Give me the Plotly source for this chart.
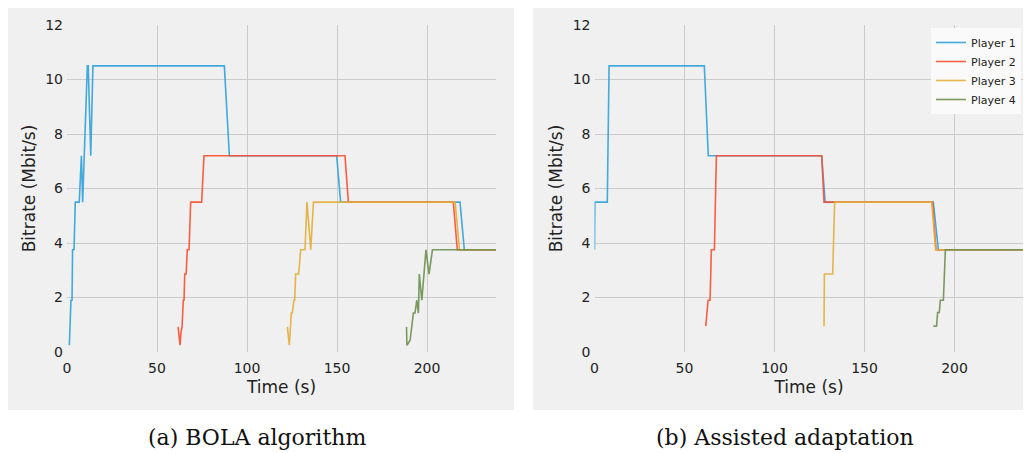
import plotly.graph_objects as go

# ---------------- data ----------------
players = ["Player 1", "Player 2", "Player 3", "Player 4"]
colors = ["#30a2da", "#fc4f30", "#e5ae38", "#6d904f"]

# (a) BOLA algorithm
bola_p1_t = [1.3, 1.7, 2.2, 2.8, 3.1, 3.9, 4.6, 6.8, 7.6, 8.0, 8.7, 11.3, 11.8, 13.2, 14.4, 87.4, 90.2, 149.8, 152.0, 218.3, 220.7, 238.3]
bola_p1_y = [0.25, 1.43, 1.9, 1.9, 3.75, 3.75, 5.5, 5.5, 7.2, 7.2, 5.5, 10.5, 10.5, 7.2, 10.5, 10.5, 7.2, 7.2, 5.5, 5.5, 3.75, 3.75]
bola_p2_t = [61.7, 62.8, 63.3, 63.9, 64.6, 65.0, 65.4, 66.2, 66.8, 67.8, 68.7, 74.8, 76.1, 154.4, 156.3, 214.6, 216.8, 238.3]
bola_p2_y = [0.92, 0.25, 0.72, 0.92, 1.9, 1.9, 2.86, 2.86, 3.75, 3.75, 5.5, 5.5, 7.2, 7.2, 5.5, 5.5, 3.75, 3.75]
bola_p3_t = [122.4, 123.5, 124.6, 125.2, 126.0, 126.5, 127.0, 128.7, 129.8, 132.2, 133.3, 135.4, 136.9, 215.6, 218.0, 238.3]
bola_p3_y = [0.92, 0.25, 1.43, 1.43, 1.9, 1.9, 2.86, 2.86, 3.75, 3.75, 5.5, 3.75, 5.5, 5.5, 3.75, 3.75]
bola_p4_t = [188.6, 188.8, 190.6, 191.5, 192.4, 193.3, 194.3, 195.2, 195.7, 197.1, 198.3, 199.4, 201.1, 203.0, 238.3]
bola_p4_y = [0.92, 0.25, 0.43, 0.92, 1.43, 1.43, 1.9, 1.43, 2.86, 1.9, 2.86, 3.75, 2.86, 3.75, 3.75]

# (b) Assisted adaptation
asst_p1_t = [0.0, 0.2, 7.1, 8.1, 61.0, 63.2, 126.2, 128.1, 188.2, 191.0, 238.3]
asst_p1_y = [3.75, 5.5, 5.5, 10.5, 10.5, 7.2, 7.2, 5.5, 5.5, 3.75, 3.75]
asst_p2_t = [61.8, 63.1, 64.2, 64.9, 66.6, 67.7, 126.2, 127.5, 187.7, 189.7, 238.3]
asst_p2_y = [0.95, 1.9, 1.9, 3.75, 3.75, 7.2, 7.2, 5.5, 5.5, 3.75, 3.75]
asst_p3_t = [127.5, 127.7, 132.3, 133.4, 187.3, 189.5, 238.3]
asst_p3_y = [0.95, 2.86, 2.86, 5.5, 5.5, 3.75, 3.75]
asst_p4_t = [188.2, 190.0, 190.6, 191.5, 192.1, 193.8, 194.9, 238.3]
asst_p4_y = [0.95, 0.95, 1.45, 1.45, 1.9, 1.9, 3.75, 3.75]

x_ticks = [0, 50, 100, 150, 200]
y_ticks = [0, 2, 4, 6, 8, 10, 12]
captions = ["(a) BOLA algorithm", "(b) Assisted adaptation"]
x_title = "Time (s)"
y_title = "Bitrate (Mbit/s)"

# ---------------- figure ----------------
# the page body adds an 8 px margin; size the figure to fit the window
OX, OY = 8, 8
W, H = 1031 - OX, 453 - OY
fig = go.Figure()

bola = [(bola_p1_t, bola_p1_y), (bola_p2_t, bola_p2_y), (bola_p3_t, bola_p3_y), (bola_p4_t, bola_p4_y)]
asst = [(asst_p1_t, asst_p1_y), (asst_p2_t, asst_p2_y), (asst_p3_t, asst_p3_y), (asst_p4_t, asst_p4_y)]

for i, (t, y) in enumerate(bola):
    fig.add_trace(go.Scatter(x=t, y=y, mode="lines", name=players[i], showlegend=False,
                             line=dict(color=colors[i], width=1.6), opacity=0.9,
                             xaxis="x", yaxis="y"))
for i, (t, y) in enumerate(asst):
    fig.add_trace(go.Scatter(x=t, y=y, mode="lines", name=players[i], showlegend=True,
                             line=dict(color=colors[i], width=1.6), opacity=0.9,
                             xaxis="x2", yaxis="y2"))

def px(x):
    return max(0.0, min(1.0, (x - OX) / W))

def py(y):
    return max(0.0, min(1.0, 1 - (y - OY) / H))

bg = "#f0f0f0"
grid = "#cbcbcb"
tickfont = dict(family="DejaVu Sans", size=14, color="#222222")
titlefont = dict(family="DejaVu Sans", size=17, color="#222222")

xdom1 = [px(67), px(496)]
xdom2 = [px(594.5), px(1023.5)]
ydom = [py(352), py(25)]

common_x = dict(range=[0, 238.3], tickvals=x_ticks, showgrid=True, gridcolor=grid, gridwidth=1.3,
                zeroline=False, showline=False, ticks="", tickfont=tickfont, automargin=False,
                ticklabelstandoff=6, title=dict(text=x_title, font=titlefont, standoff=6))
common_y = dict(range=[0, 12], tickvals=y_ticks, showgrid=True, gridcolor=grid, gridwidth=1.3,
                zeroline=False, showline=False, ticks="", tickfont=tickfont, automargin=False,
                ticklabelstandoff=3, title=dict(text=y_title, font=titlefont, standoff=5))

fig.update_layout(
    width=W, height=H, autosize=False,
    margin=dict(l=0, r=0, t=0, b=0, pad=0),
    paper_bgcolor="white", plot_bgcolor=bg,
    xaxis=dict(domain=xdom1, anchor="y", **common_x),
    yaxis=dict(domain=ydom, anchor="x", **common_y),
    xaxis2=dict(domain=xdom2, anchor="y2", **common_x),
    yaxis2=dict(domain=ydom, anchor="x2", **common_y),
    legend=dict(x=px(1021), y=py(28), xanchor="right", yanchor="top",
                bgcolor="#fafafa", borderwidth=0,
                font=dict(family="DejaVu Sans", size=11, color="#222222"),
                tracegroupgap=0, itemwidth=30),
    shapes=[
        dict(type="rect", xref="paper", yref="paper", x0=px(5), x1=px(514), y0=py(410), y1=py(3),
             fillcolor=bg, line=dict(width=0), layer="below"),
        dict(type="rect", xref="paper", yref="paper", x0=px(533), x1=px(1026), y0=py(410), y1=py(3),
             fillcolor=bg, line=dict(width=0), layer="below"),
    ],
    annotations=[
        dict(text=captions[0], xref="paper", yref="paper", x=px(257), y=py(437), showarrow=False,
             xanchor="center", yanchor="middle", font=dict(family="DejaVu Serif", size=22, color="#111111")),
        dict(text=captions[1], xref="paper", yref="paper", x=px(785), y=py(437), showarrow=False,
             xanchor="center", yanchor="middle", font=dict(family="DejaVu Serif", size=22, color="#111111")),
    ],
)

fig.write_html("out.html")
